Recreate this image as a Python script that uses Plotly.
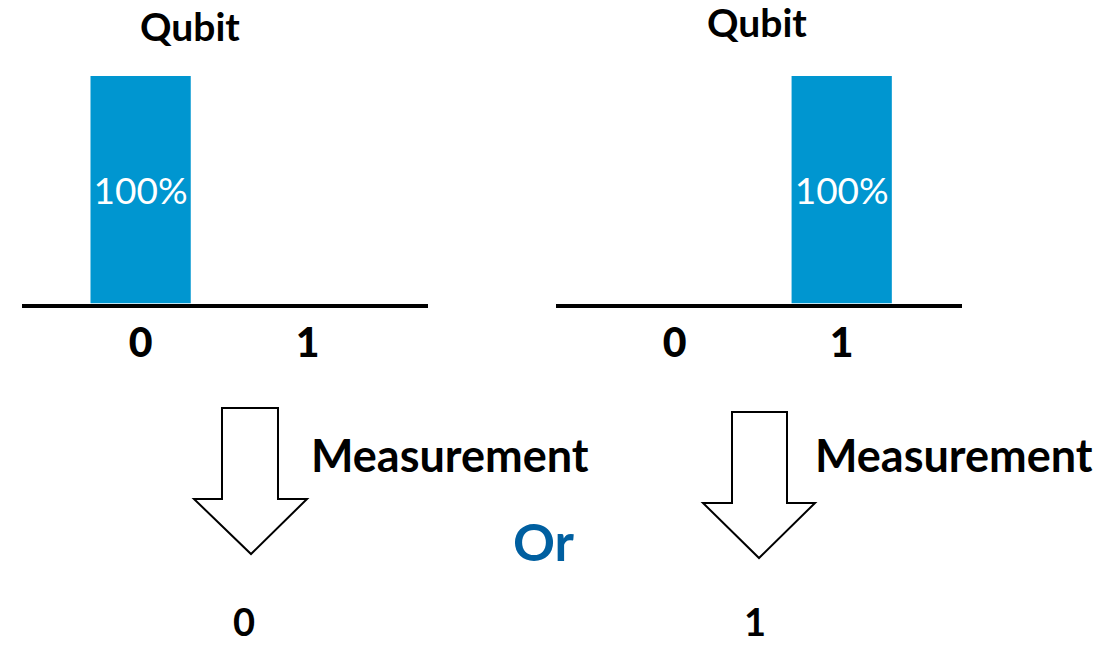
import plotly.graph_objects as go

W, H = 1120, 645

states = ["0", "1"]
left_probs = [100, 0]
right_probs = [0, 100]
title_text = "Qubit"
measure_text = "Measurement"
outcomes = ["0", "1"]
or_text = "Or"

BAR = "#0096D0"
FONT = "Lato"


def px(x):
    return x / W


def py(y):
    return 1 - y / H


def labels(vals):
    return [f"{v}%" if v else "" for v in vals]


fig = go.Figure()
for vals, xa, ya in [(left_probs, "x", "y"), (right_probs, "x2", "y2")]:
    fig.add_trace(go.Bar(
        x=states, y=vals, xaxis=xa, yaxis=ya, width=0.6,
        marker=dict(color=BAR, line=dict(width=0)),
        text=labels(vals), textposition="inside", insidetextanchor="middle",
        constraintext="none",
        textfont=dict(family=FONT, size=37, color="white"),
        showlegend=False, hoverinfo="skip",
    ))

xcommon = dict(type="category", range=[-0.71, 1.72], showline=True, linewidth=4,
               linecolor="black", showgrid=False, zeroline=False,
               ticks="", ticklen=0,
               tickfont=dict(family=FONT, size=41, color="black", weight=900),
               fixedrange=True)
ycommon = dict(range=[0, 100], visible=False, showgrid=False, zeroline=False,
               domain=[py(303.5), py(76)], fixedrange=True)

fig.update_layout(
    width=W, height=H, margin=dict(l=0, r=0, t=0, b=0),
    paper_bgcolor="white", plot_bgcolor="rgba(0,0,0,0)",
    xaxis=dict(domain=[px(22), px(428)], anchor="y", **xcommon),
    yaxis=dict(anchor="x", **ycommon),
    xaxis2=dict(domain=[px(556), px(962)], anchor="y2", **xcommon),
    yaxis2=dict(anchor="x2", **ycommon),
    bargap=0.4,
)

anns = [
    (title_text, 190, 26, 39, "black", "middle"),
    (title_text, 757, 22, 39, "black", "middle"),
    (measure_text, 450, 455, 45, "black", "middle"),
    (measure_text, 954, 455, 45, "black", "middle"),
    (or_text, 544, 541, 52, "#005FA0", "middle"),
    (outcomes[0], 244, 645, 38, "black", "bottom"),
    (outcomes[1], 755, 645, 38, "black", "bottom"),
]
for t, x, y, s, c, ya in anns:
    fig.add_annotation(text=t, x=px(x), y=py(y), xref="paper", yref="paper",
                       xanchor="center", yanchor=ya, showarrow=False, borderpad=0,
                       font=dict(family=FONT, size=s, color=c, weight="bold"))


def arrow_path(x0, x1, ytop, yhead, hx0, hx1, tipx, tipy):
    pts = [(x0, ytop), (x1, ytop), (x1, yhead), (hx1, yhead), (tipx, tipy),
           (hx0, yhead), (x0, yhead)]
    return "M " + " L ".join(f"{px(a):.5f},{py(b):.5f}" for a, b in pts) + " Z"


for args in [(222, 278, 408, 499, 194, 307, 251, 554),
             (732, 787, 412, 503, 703, 815, 759, 558)]:
    fig.add_shape(type="path", path=arrow_path(*args), xref="paper", yref="paper",
                  line=dict(color="black", width=2), fillcolor="white")

fig.write_html("out.html", config={"displayModeBar": False},
               post_script="document.body.style.margin='0';"
                           "document.body.style.overflow='hidden';")
